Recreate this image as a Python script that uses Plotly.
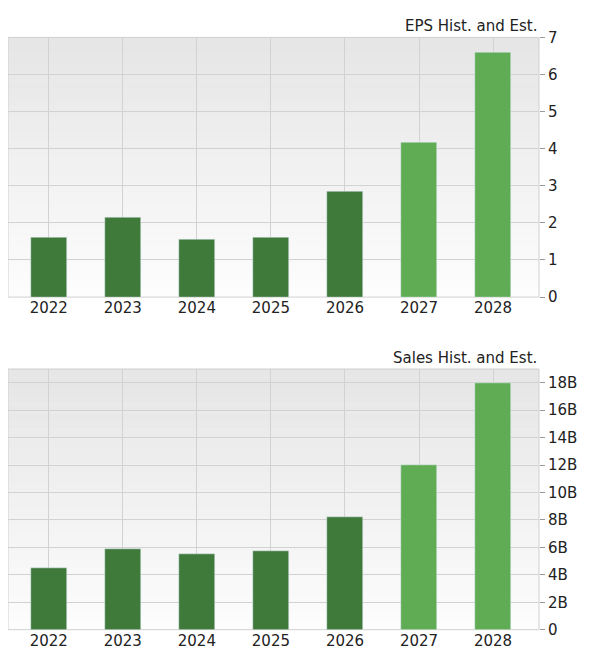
import plotly.graph_objects as go

years = ["2022", "2023", "2024", "2025", "2026", "2027", "2028"]
eps = [1.6, 2.15, 1.55, 1.6, 2.85, 4.18, 6.6]
sales = [4.5, 5.9, 5.5, 5.7, 8.2, 12.0, 18.0]  # billions
estimate = [False, False, False, False, False, True, True]

dark, light = "#3f7a3b", "#5fac55"
colors = [light if e else dark for e in estimate]
xs = list(range(len(years)))

W, H = 595, 655
x0, x1 = 0.0, 531 / W
top_dom = [1 - 288 / H, 1 - 21 / H]
bot_dom = [1 - 630 / H, 1 - 362 / H]

fig = go.Figure()
fig.add_trace(go.Bar(x=xs, y=eps, marker_color=colors, width=0.48, xaxis="x", yaxis="y"))
fig.add_trace(go.Bar(x=xs, y=[v * 1e9 for v in sales], marker_color=colors, width=0.48,
                     xaxis="x2", yaxis="y2"))

# gradient backgrounds
shapes = []
n = 30
for dom in (top_dom, bot_dom):
    h = (dom[1] - dom[0]) / n
    for i in range(n):
        t = i / (n - 1)
        g = int(0xfd - (0xfd - 0xe6) * t)
        shapes.append(dict(type="rect", xref="paper", yref="paper", x0=x0, x1=x1,
                           y0=dom[0] + i * h, y1=dom[0] + (i + 1) * h + 0.0005,
                           fillcolor=f"rgb({g},{g},{g})", line_width=0, layer="below"))
    shapes.append(dict(type="rect", xref="paper", yref="paper", x0=x0, x1=x1,
                       y0=dom[0], y1=dom[1], line=dict(color="#d0d0d0", width=1), layer="below"))

xcommon = dict(tickvals=xs, ticktext=years, range=[-0.55, 6.62], showgrid=True,
               gridcolor="#d2d2d2", zeroline=False, ticks="", tickfont=dict(size=15, color="#222"))
ycommon = dict(side="right", showgrid=True, gridcolor="#d2d2d2", zeroline=False,
               ticks="outside", ticklen=5, tickcolor="#999", tickfont=dict(size=15, color="#222"))

fig.update_layout(
    width=W, height=H, margin=dict(l=0, r=0, t=0, b=0),
    paper_bgcolor="white", plot_bgcolor="rgba(0,0,0,0)",
    font=dict(family="DejaVu Sans", size=15, color="#222"),
    showlegend=False, bargap=0, shapes=shapes,
    xaxis=dict(domain=[x0, x1], anchor="y", **xcommon),
    yaxis=dict(domain=top_dom, anchor="x", range=[0, 7], dtick=1, **ycommon),
    xaxis2=dict(domain=[x0, x1], anchor="y2", **xcommon),
    yaxis2=dict(domain=bot_dom, anchor="x2", range=[0, 19e9], tickvals=[i * 2e9 for i in range(10)],
                ticktext=["0"] + [f"{2 * i}B" for i in range(1, 10)], **ycommon),
    annotations=[
        dict(text="EPS Hist. and Est.", xref="paper", yref="paper", x=x1, y=top_dom[1],
             xanchor="right", yanchor="bottom", showarrow=False, font=dict(size=15)),
        dict(text="Sales Hist. and Est.", xref="paper", yref="paper", x=x1, y=bot_dom[1],
             xanchor="right", yanchor="bottom", showarrow=False, font=dict(size=15)),
    ],
)

fig.write_html("out.html")
